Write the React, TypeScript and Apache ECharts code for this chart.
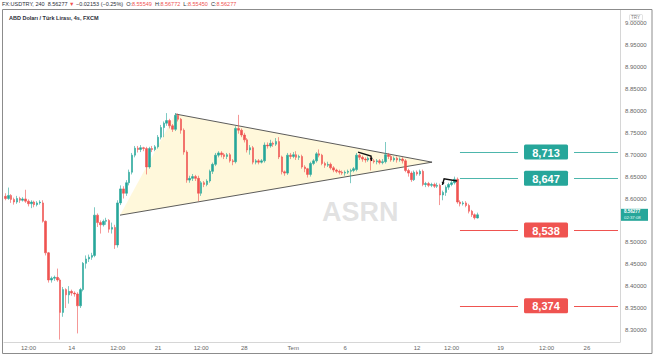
import React, { useEffect, useRef } from 'react';
import * as echarts from 'echarts';

// ---------- data ----------
const categoryCount = 214;
const xTickLabels: [number, string][] = [
  [8, '12:00'], [23, '14'], [39, '12:00'], [53, '21'], [68, '12:00'], [83, '28'],
  [100, 'Tem'], [118, '6'], [143, '12'], [155, '12:00'], [172, '19'], [188, '12:00'], [202, '26'],
];

// [open, close, low, high]
const candles: number[][] = [
  [8.605, 8.600, 8.596, 8.612], [8.600, 8.607, 8.597, 8.625], [8.607, 8.598, 8.590, 8.610],
  [8.598, 8.592, 8.586, 8.602], [8.592, 8.600, 8.588, 8.606], [8.600, 8.596, 8.590, 8.604],
  [8.596, 8.599, 8.593, 8.603], [8.599, 8.594, 8.590, 8.620], [8.594, 8.588, 8.582, 8.598],
  [8.588, 8.592, 8.578, 8.596], [8.592, 8.586, 8.580, 8.595], [8.586, 8.590, 8.582, 8.594],
  [8.590, 8.592, 8.586, 8.596], [8.590, 8.548, 8.545, 8.596], [8.548, 8.476, 8.470, 8.550],
  [8.476, 8.414, 8.408, 8.478], [8.414, 8.418, 8.408, 8.422], [8.418, 8.420, 8.412, 8.424],
  [8.420, 8.414, 8.410, 8.440], [8.414, 8.340, 8.278, 8.418], [8.340, 8.392, 8.330, 8.398],
  [8.392, 8.380, 8.350, 8.395], [8.380, 8.388, 8.360, 8.400], [8.388, 8.384, 8.378, 8.392],
  [8.384, 8.382, 8.376, 8.388], [8.382, 8.355, 8.292, 8.386], [8.355, 8.392, 8.350, 8.396],
  [8.392, 8.452, 8.388, 8.455], [8.452, 8.462, 8.440, 8.470], [8.462, 8.466, 8.455, 8.472],
  [8.466, 8.470, 8.460, 8.476], [8.470, 8.562, 8.466, 8.580], [8.562, 8.545, 8.535, 8.566],
  [8.545, 8.540, 8.520, 8.550], [8.540, 8.548, 8.536, 8.552], [8.548, 8.550, 8.540, 8.556],
  [8.550, 8.530, 8.522, 8.553], [8.530, 8.534, 8.520, 8.545], [8.534, 8.494, 8.485, 8.540],
  [8.494, 8.590, 8.488, 8.596], [8.590, 8.622, 8.585, 8.630], [8.622, 8.612, 8.600, 8.628],
  [8.612, 8.636, 8.606, 8.642], [8.636, 8.660, 8.630, 8.666], [8.660, 8.699, 8.655, 8.704],
  [8.699, 8.715, 8.694, 8.720], [8.715, 8.712, 8.705, 8.720], [8.712, 8.716, 8.706, 8.722],
  [8.716, 8.714, 8.708, 8.718], [8.714, 8.672, 8.655, 8.718], [8.672, 8.714, 8.668, 8.718],
  [8.714, 8.712, 8.706, 8.720], [8.712, 8.718, 8.708, 8.722], [8.718, 8.740, 8.714, 8.745],
  [8.740, 8.762, 8.735, 8.768], [8.762, 8.772, 8.740, 8.776], [8.772, 8.778, 8.766, 8.795],
  [8.778, 8.766, 8.760, 8.782], [8.766, 8.758, 8.752, 8.770], [8.758, 8.790, 8.754, 8.795],
  [8.790, 8.781, 8.776, 8.794], [8.781, 8.756, 8.748, 8.784], [8.756, 8.706, 8.700, 8.760],
  [8.706, 8.642, 8.636, 8.710], [8.642, 8.646, 8.636, 8.652], [8.646, 8.650, 8.640, 8.656],
  [8.650, 8.646, 8.640, 8.654], [8.646, 8.612, 8.594, 8.652], [8.612, 8.636, 8.606, 8.640],
  [8.636, 8.632, 8.626, 8.640], [8.632, 8.640, 8.628, 8.644], [8.640, 8.662, 8.636, 8.666],
  [8.662, 8.678, 8.656, 8.682], [8.678, 8.699, 8.674, 8.704], [8.699, 8.704, 8.694, 8.708],
  [8.704, 8.700, 8.694, 8.708], [8.700, 8.696, 8.690, 8.704], [8.696, 8.700, 8.690, 8.704],
  [8.700, 8.686, 8.682, 8.704], [8.686, 8.684, 8.676, 8.690], [8.684, 8.760, 8.680, 8.765],
  [8.760, 8.756, 8.748, 8.791], [8.756, 8.745, 8.740, 8.760], [8.745, 8.734, 8.728, 8.750],
  [8.734, 8.711, 8.705, 8.738], [8.711, 8.716, 8.700, 8.722], [8.716, 8.683, 8.678, 8.720],
  [8.683, 8.686, 8.678, 8.690], [8.686, 8.683, 8.678, 8.690], [8.683, 8.686, 8.680, 8.690],
  [8.686, 8.722, 8.682, 8.728], [8.722, 8.720, 8.714, 8.728], [8.720, 8.726, 8.716, 8.734],
  [8.726, 8.724, 8.718, 8.730], [8.724, 8.730, 8.720, 8.738], [8.730, 8.695, 8.690, 8.740],
  [8.695, 8.661, 8.655, 8.698], [8.661, 8.658, 8.652, 8.664], [8.658, 8.699, 8.654, 8.704],
  [8.699, 8.696, 8.690, 8.704], [8.696, 8.700, 8.692, 8.706], [8.700, 8.694, 8.688, 8.708],
  [8.694, 8.696, 8.688, 8.700], [8.696, 8.672, 8.668, 8.700], [8.672, 8.668, 8.660, 8.676],
  [8.668, 8.655, 8.648, 8.670], [8.655, 8.680, 8.650, 8.684], [8.680, 8.686, 8.676, 8.690],
  [8.686, 8.702, 8.682, 8.706], [8.702, 8.699, 8.694, 8.712], [8.699, 8.680, 8.676, 8.702],
  [8.680, 8.676, 8.670, 8.684], [8.676, 8.678, 8.672, 8.684], [8.678, 8.670, 8.666, 8.682],
  [8.670, 8.665, 8.660, 8.674], [8.665, 8.662, 8.658, 8.668], [8.662, 8.660, 8.655, 8.666],
  [8.660, 8.658, 8.654, 8.664], [8.658, 8.660, 8.652, 8.664], [8.660, 8.662, 8.656, 8.666],
  [8.662, 8.664, 8.635, 8.668], [8.664, 8.668, 8.660, 8.672], [8.666, 8.699, 8.662, 8.704],
  [8.699, 8.694, 8.688, 8.702], [8.694, 8.690, 8.684, 8.698], [8.690, 8.688, 8.682, 8.694],
  [8.688, 8.692, 8.684, 8.696], [8.692, 8.686, 8.664, 8.696], [8.686, 8.684, 8.680, 8.690],
  [8.684, 8.686, 8.678, 8.690], [8.686, 8.682, 8.678, 8.690], [8.682, 8.684, 8.678, 8.690],
  [8.684, 8.700, 8.680, 8.729], [8.700, 8.696, 8.690, 8.704], [8.696, 8.688, 8.684, 8.700],
  [8.688, 8.692, 8.684, 8.696], [8.692, 8.688, 8.682, 8.696], [8.688, 8.690, 8.684, 8.694],
  [8.690, 8.686, 8.680, 8.694], [8.686, 8.664, 8.660, 8.690], [8.664, 8.658, 8.650, 8.668],
  [8.658, 8.643, 8.638, 8.662], [8.643, 8.660, 8.640, 8.664], [8.660, 8.656, 8.652, 8.664],
  [8.656, 8.662, 8.652, 8.666], [8.662, 8.632, 8.628, 8.666], [8.632, 8.634, 8.626, 8.638],
  [8.634, 8.630, 8.626, 8.638], [8.630, 8.632, 8.626, 8.636], [8.632, 8.628, 8.624, 8.636],
  [8.628, 8.630, 8.624, 8.636], [8.630, 8.608, 8.585, 8.634], [8.608, 8.614, 8.596, 8.618],
  [8.614, 8.626, 8.606, 8.630], [8.626, 8.632, 8.620, 8.636], [8.632, 8.636, 8.628, 8.640],
  [8.636, 8.644, 8.632, 8.650], [8.644, 8.592, 8.588, 8.648], [8.592, 8.588, 8.582, 8.596],
  [8.588, 8.590, 8.584, 8.594], [8.590, 8.584, 8.580, 8.594], [8.584, 8.571, 8.566, 8.588],
  [8.571, 8.563, 8.558, 8.574], [8.563, 8.556, 8.552, 8.566], [8.55549, 8.56277, 8.5545, 8.56772],
];

const yMin = 8.2724;
const yMax = 9.0304;
// tick label hidden behind the last-price box in the reference
const hiddenYTicks = [8.55];

// triangle pattern vertices [index, price]
const trianglePoints: number[][] = [[39.8, 8.562], [59, 8.793], [148.2, 8.683]];

// arrow annotations [index, price]
const arrowPaths: number[][][] = [
  [[122.5, 8.706], [127, 8.697], [127.2, 8.686]],
  [[156.9, 8.640], [152.4, 8.645], [151.8, 8.631]],
];

// horizontal levels
const levelValues = [8.706, 8.646, 8.528, 8.355];
const levelTexts = ['8,713', '8,647', '8,538', '8,374'];
const levelKinds = ['up', 'up', 'down', 'down'];
const levelStartIndex = 157.9;
const levelLabelIndex = 187.8;

const lastPrice = 8.56277;
const lastPriceTexts = ['8.56277', '02:37:08'];

const UP = '#26a69a';
const DOWN = '#ef5350';
const FONT = '"Liberation Sans", Arial, sans-serif';

function px(api: any, idx: number, val: number): number[] {
  const f = Math.floor(idx);
  const base = api.coord([f, val]);
  const w = api.size([1, 0])[0];
  return [base[0] + (idx - f) * w, base[1]];
}

export default function App() {
  const ref = useRef<HTMLDivElement>(null);
  useEffect(() => {
    const chart = echarts.init(ref.current!, null, { renderer: 'svg' });
    const categories = Array.from({ length: categoryCount }, (_, i) => String(i));
    const labelMap: Record<string, string> = {};
    xTickLabels.forEach(([i, t]) => (labelMap[String(i)] = t));

    const option: any = {
      animation: false,
      backgroundColor: '#ffffff',
      textStyle: { fontFamily: FONT },
      grid: { left: 4, right: 34, top: 10, bottom: 16 },
      xAxis: {
        type: 'category',
        data: categories,
        boundaryGap: true,
        axisLine: { show: true, lineStyle: { color: '#d6d6d6' } },
        axisTick: { show: false },
        splitLine: { show: false },
        axisLabel: {
          interval: 0,
          margin: 3,
          fontSize: 6,
          color: '#666',
          fontFamily: FONT,
          formatter: (v: string) => labelMap[v] || '',
        },
      },
      yAxis: {
        type: 'value',
        position: 'right',
        min: yMin,
        max: yMax,
        minInterval: 0.05,
        maxInterval: 0.05,
        splitNumber: 15,
        scale: true,
        axisLine: { show: true, lineStyle: { color: '#d6d6d6' } },
        axisTick: { show: false },
        splitLine: { show: false },
        axisLabel: {
          margin: 5,
          fontSize: 6,
          color: '#666',
          fontFamily: FONT,
          showMinLabel: false,
          showMaxLabel: false,
          formatter: (v: number) =>
            hiddenYTicks.some((h) => Math.abs(h - v) < 1e-6) ? '' : v.toFixed(5),
        },
      },
      series: [
        {
          type: 'custom',
          z: 1,
          silent: true,
          data: trianglePoints,
          renderItem: (params: any, api: any) => {
            if (params.dataIndex !== 0) return null;
            const pts = trianglePoints.map((p) => px(api, p[0], p[1]));
            return {
              type: 'group',
              children: [
                {
                  type: 'polygon',
                  shape: { points: pts },
                  style: { fill: 'rgba(255, 236, 160, 0.38)', stroke: 'none' },
                },
                {
                  type: 'polyline',
                  shape: { points: [pts[1], pts[2], pts[0]] },
                  style: { stroke: '#4a4a4a', lineWidth: 0.9, fill: 'none' },
                },
              ],
            };
          },
        },
        {
          type: 'candlestick',
          z: 3,
          data: candles,
          barWidth: 2,
          itemStyle: {
            color: UP,
            color0: DOWN,
            borderColor: UP,
            borderColor0: DOWN,
            borderWidth: 0.6,
          },
        },
        {
          type: 'custom',
          z: 5,
          silent: true,
          data: arrowPaths.map((p) => p[0]),
          renderItem: (params: any, api: any) => {
            const path = arrowPaths[params.dataIndex];
            const pts = path.map((p) => px(api, p[0], p[1]));
            const a = pts[pts.length - 2];
            const b = pts[pts.length - 1];
            const ang = Math.atan2(b[1] - a[1], b[0] - a[0]);
            const L = 3.2;
            const head = [
              b,
              [b[0] - L * Math.cos(ang - 0.5), b[1] - L * Math.sin(ang - 0.5)],
              [b[0] - L * Math.cos(ang + 0.5), b[1] - L * Math.sin(ang + 0.5)],
            ];
            return {
              type: 'group',
              children: [
                { type: 'polyline', shape: { points: pts }, style: { stroke: '#111', lineWidth: 1.4, fill: 'none' } },
                { type: 'polygon', shape: { points: head }, style: { fill: '#111' } },
              ],
            };
          },
        },
        {
          type: 'custom',
          z: 5,
          silent: true,
          data: levelValues.map((v) => [Math.floor(levelStartIndex), v]),
          renderItem: (params: any, api: any) => {
            const i = params.dataIndex;
            const v = levelValues[i];
            const lineColor = levelKinds[i] === 'up' ? '#4db6ac' : '#ef5350';
            const boxColor = levelKinds[i] === 'up' ? '#26a69a' : '#ef5350';
            const s = px(api, levelStartIndex, v);
            const c = px(api, levelLabelIndex, v);
            const right = params.coordSys.x + params.coordSys.width - 2;
            const y = Math.round(s[1]) + 0.5;
            const bw = 44;
            const bh = 15;
            return {
              type: 'group',
              children: [
                { type: 'line', shape: { x1: s[0], y1: y, x2: c[0] - 28, y2: y }, style: { stroke: lineColor, lineWidth: 1 } },
                { type: 'line', shape: { x1: c[0] + 28, y1: y, x2: right, y2: y }, style: { stroke: lineColor, lineWidth: 1 } },
                { type: 'rect', shape: { x: c[0] - bw / 2, y: s[1] - bh / 2, width: bw, height: bh, r: 1.5 }, style: { fill: boxColor } },
                {
                  type: 'text',
                  x: c[0],
                  y: s[1] + 0.5,
                  style: {
                    text: levelTexts[i],
                    fill: '#ffffff',
                    font: `bold 11px ${FONT}`,
                    align: 'center',
                    verticalAlign: 'middle',
                  },
                },
              ],
            };
          },
        },
        {
          type: 'custom',
          z: 6,
          silent: true,
          clip: false,
          data: [[candles.length - 1, lastPrice]],
          renderItem: (params: any, api: any) => {
            const p = api.coord([0, lastPrice]);
            const x0 = params.coordSys.x + params.coordSys.width + 1;
            return {
              type: 'group',
              children: [
                { type: 'rect', shape: { x: x0, y: p[1] - 6, width: 27, height: 12 }, style: { fill: '#26a69a' } },
                {
                  type: 'text', x: x0 + 3, y: p[1] - 3,
                  style: { text: lastPriceTexts[0], fill: '#fff', font: `bold 4.5px ${FONT}`, verticalAlign: 'middle' },
                },
                {
                  type: 'text', x: x0 + 3, y: p[1] + 3,
                  style: { text: lastPriceTexts[1], fill: '#e8fff9', font: `4.3px ${FONT}`, verticalAlign: 'middle' },
                },
              ],
            };
          },
        },
      ],
      graphic: [
        {
          type: 'rect',
          silent: true,
          shape: { x: 2.5, y: 9.5, width: 649.5, height: 344 },
          style: { fill: 'none', stroke: '#8c8c8c', lineWidth: 1 },
          z: 100,
        },
        {
          type: 'text',
          left: 2,
          top: 1,
          silent: true,
          style: {
            text: '{d|FX:USDTRY, 240  8.56277} {r|▼} {d|−0.02153 (−0.25%)}  {d|O:}{r|8.55549}  {d|H:}{r|8.56772}  {d|L:}{r|8.55450}  {d|C:}{r|8.56277}',
            fontFamily: FONT,
            fontSize: 5.5,
            rich: {
              d: { fill: '#2a2e39', fontSize: 5.5, fontFamily: FONT },
              r: { fill: '#ef5350', fontSize: 5.5, fontFamily: FONT },
            },
          },
        },
        {
          type: 'text',
          left: 9,
          top: 15,
          silent: true,
          style: { text: 'ABD Doları / Türk Lirası, 4s, FXCM', fill: '#2a2e39', font: `bold 5.5px ${FONT}` },
        },
        {
          type: 'text',
          left: 322,
          top: 198,
          silent: true,
          z: 0,
          style: { text: 'ASRN', fill: 'rgba(190,190,190,0.45)', font: `bold 27px ${FONT}` },
        },
        {
          type: 'rect',
          silent: true,
          shape: { x: 629.5, y: 14.5, width: 13, height: 6, r: 1 },
          style: { fill: '#fff', stroke: '#cfcfcf', lineWidth: 0.6 },
        },
        {
          type: 'text',
          left: 631,
          top: 15,
          silent: true,
          style: { text: 'TRY', fill: '#777', font: `4.5px ${FONT}` },
        },
      ],
    };
    chart.setOption(option);
    return () => chart.dispose();
  }, []);
  return (
    <div
      ref={ref}
      style={{ position: 'absolute', left: 0, top: 0, width: 654, height: 358, background: '#fff' }}
    />
  );
}
